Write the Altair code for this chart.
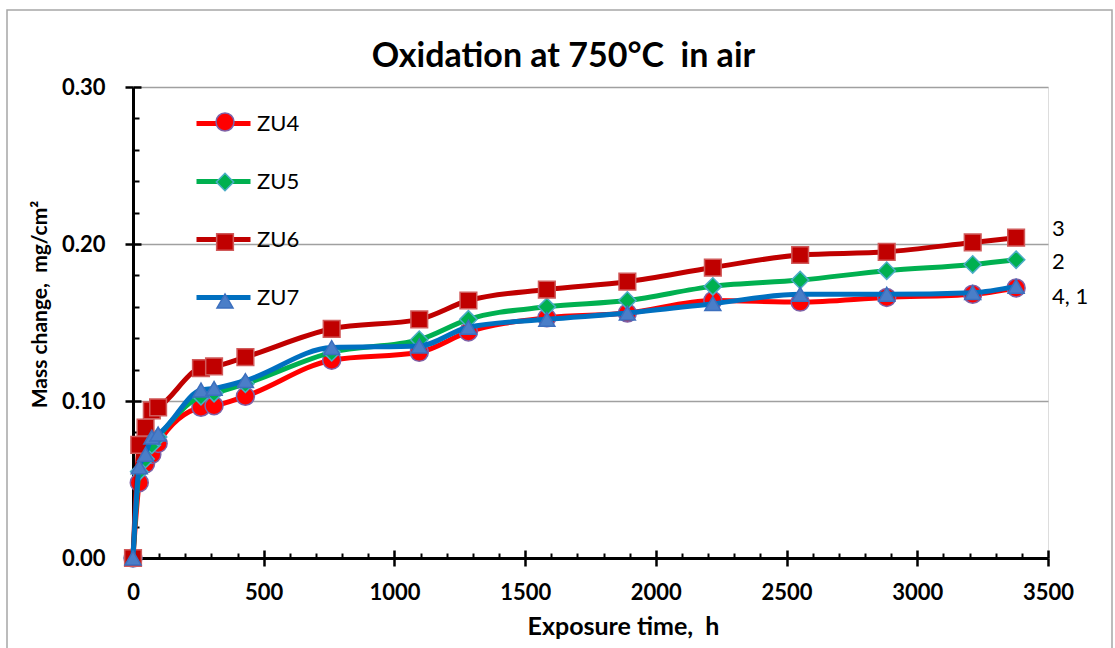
import altair as alt
import pandas as pd

# ---- data ----
times = [0, 24, 48, 72, 96, 260, 310, 430, 760, 1095, 1283, 1583, 1891, 2218, 2552, 2883, 3212, 3378]
zu4 = [0, 0.048, 0.060, 0.066, 0.073, 0.096, 0.097, 0.103, 0.126, 0.131, 0.144, 0.153, 0.156, 0.164, 0.163, 0.166, 0.168, 0.172]
zu5 = [0, 0.055, 0.063, 0.072, 0.077, 0.103, 0.105, 0.111, 0.131, 0.139, 0.152, 0.160, 0.164, 0.173, 0.177, 0.183, 0.187, 0.190]
zu6 = [0, 0.072, 0.083, 0.094, 0.096, 0.121, 0.122, 0.128, 0.146, 0.152, 0.164, 0.171, 0.176, 0.185, 0.193, 0.195, 0.201, 0.204]
zu7 = [0, 0.058, 0.066, 0.077, 0.079, 0.107, 0.108, 0.113, 0.134, 0.135, 0.147, 0.152, 0.156, 0.162, 0.168, 0.168, 0.169, 0.173]

series_names = ["ZU4", "ZU5", "ZU6", "ZU7"]
series_values = [zu4, zu5, zu6, zu7]
end_labels = {"ZU6": "3", "ZU5": "2", "ZU4": "4, 1"}

line_colors = ["#FF0000", "#00B050", "#C00000", "#0070C0"]
marker_fills = ["#FF0000", "#00B050", "#C00000", "#4A7EC8"]
marker_strokes = ["#7E62A8", "#4BACC6", "#D05A5A", "#3C6FBE"]
marker_shapes = ["circle", "diamond", "square", "triangle-up"]
marker_sizes = [324, 256, 324, 144]

x_major = [0, 500, 1000, 1500, 2000, 2500, 3000, 3500]
x_minor = [v for v in range(100, 3500, 100) if v % 500]
y_major = [0.0, 0.1, 0.2, 0.3]
y_minor = [round(0.02 * i, 2) for i in range(1, 15) if i % 5]

rows = []
for name, vals in zip(series_names, series_values):
    for t, v in zip(times, vals):
        rows.append({"time": t, "value": v, "series": name, "line_series": name,
                     "end_label": end_labels.get(name, "")})
df = pd.DataFrame(rows)

W, H = 915, 471
FONT = "Lato"
xscale = alt.Scale(domain=[0, 3500], nice=False, zero=False)
yscale = alt.Scale(domain=[0, 0.3], nice=False)


def X(axis):
    return alt.X("time:Q", scale=xscale, axis=axis, title=None)


def Y(axis):
    return alt.Y("value:Q", scale=yscale, axis=axis, title=None)


line_legend = alt.Legend(
    title=None, orient="none", legendX=61, legendY=7, symbolType="stroke",
    symbolSize=2916, symbolStrokeWidth=5, labelFont=FONT, labelFontSize=22,
    labelColor="black", labelOffset=4, rowPadding=17, padding=0, labelLimit=200,
)
pt_legend = alt.Legend(
    title=None, orient="none", legendX=81, legendY=24, labelFont=FONT,
    labelFontSize=22, labelExpr="' '", rowPadding=36, padding=0, symbolStrokeWidth=1.5,
    symbolOpacity=1,
)

layers = []

# chart-area frame
frame = alt.Chart(alt.Data(values=[{"f": 1}])).mark_rect(
    fillOpacity=0, stroke="#A6A6A6", strokeWidth=1.5
).encode(x=alt.value(-126), x2=alt.value(979), y=alt.value(-77), y2=alt.value(620))
layers.append(frame)

# main axes (bottom / left) with gridlines
main_axes = alt.Chart(df).mark_point(opacity=0).encode(
    x=alt.X("time:Q", scale=xscale, title="Exposure time,\u00a0 h", axis=alt.Axis(
        values=x_major, format="d", orient="bottom", tickSize=8, tickWidth=2.5,
        tickColor="black", domainColor="black", domainWidth=3, labelFont=FONT,
        labelFontSize=22, labelFontWeight="bold", labelColor="black", labelPadding=16,
        grid=False, titleFont=FONT, titleFontSize=25, titleFontWeight="bold",
        titleColor="black", titleX=490, titleY=68, titleBaseline="middle",
        labelFlush=False)),
    y=alt.Y("value:Q", scale=yscale, title="Mass change,\u00a0 mg/cm\u00b2", axis=alt.Axis(
        values=y_major, format=".2f", orient="left", tickSize=8, tickWidth=2.5,
        tickColor="black", domainColor="black", domainWidth=3, labelFont=FONT,
        labelFontSize=22, labelFontWeight="bold", labelColor="black", labelPadding=20,
        grid=True, gridColor="#A0A0A0", gridWidth=1.3, titleFont=FONT, titleFontSize=21,
        titleFontWeight="bold", titleColor="black", titleX=-93, titleY=217,
        titleAngle=270, titleBaseline="middle", titleAlign="center", labelFlush=False)),
)
layers.append(main_axes)

# inward major ticks
inner_major = alt.Chart(df).mark_point(opacity=0).encode(
    x=X(alt.Axis(values=x_major, orient="top", offset=-H, tickSize=8, tickWidth=2.5,
                 tickColor="black", labels=False, domain=False, grid=False)),
    y=Y(alt.Axis(values=y_major, orient="right", offset=-W, tickSize=8, tickWidth=2.5,
                 tickColor="black", labels=False, domain=False, grid=False)),
)
layers.append(inner_major)

# inward minor ticks
inner_minor = alt.Chart(df).mark_point(opacity=0).encode(
    x=X(alt.Axis(values=x_minor, orient="top", offset=-H, tickSize=5, tickWidth=2,
                 tickColor="black", labels=False, domain=False, grid=False)),
    y=Y(alt.Axis(values=y_minor, orient="right", offset=-W, tickSize=6, tickWidth=2,
                 tickColor="black", labels=False, domain=False, grid=False)),
)
layers.append(inner_minor)

# series: line then markers, in Excel drawing order
for name in series_names:
    sub = alt.Chart(df).transform_filter(alt.datum.series == name)
    line = sub.mark_line(strokeWidth=5, interpolate="monotone", strokeCap="round",
                         strokeJoin="round").encode(
        x=X(None), y=Y(None),
        color=alt.Color("line_series:N", scale=alt.Scale(range=line_colors), legend=line_legend),
        order=alt.Order("time:Q"),
    )
    pts = sub.mark_point(filled=True, opacity=1, strokeWidth=1.5).encode(
        x=X(None), y=Y(None),
        fill=alt.Fill("series:N", scale=alt.Scale(range=marker_fills), legend=pt_legend),
        stroke=alt.Stroke("series:N", scale=alt.Scale(range=marker_strokes), legend=pt_legend),
        shape=alt.Shape("series:N", scale=alt.Scale(range=marker_shapes), legend=pt_legend),
        size=alt.Size("series:N", scale=alt.Scale(range=marker_sizes), legend=pt_legend),
    )
    layers += [line, pts]

# end-of-curve labels
for name, dy in [("ZU6", -9), ("ZU5", 2), ("ZU4", 9)]:
    txt = alt.Chart(df).transform_filter(
        (alt.datum.series == name) & (alt.datum.time == times[-1])
    ).mark_text(align="left", baseline="middle", dx=36, dy=dy, font=FONT, fontSize=22,
                color="black").encode(x=X(None), y=Y(None), text="end_label:N")
    layers.append(txt)

chart = alt.layer(*layers).resolve_axis(x="independent", y="independent").properties(
    width=W, height=H,
    autosize=alt.AutoSizeParams(type="none"),
    padding={"left": 133, "top": 87, "right": 67, "bottom": 90},
    title=alt.TitleParams("Oxidation at 750\u00b0C\u00a0 in air", font=FONT, fontSize=34,
                          fontWeight="bold", anchor="middle", frame="group", offset=-92,
                          baseline="alphabetic", dx=-27, color="black"),
).configure_view(strokeWidth=0).configure(background="white")

chart.save("out.html", embed_options={"renderer": "svg", "actions": False})
